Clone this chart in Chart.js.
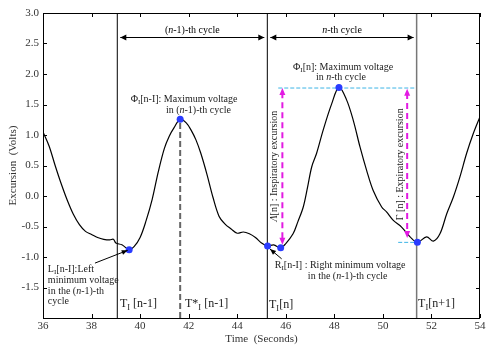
<!DOCTYPE html>
<html>
<head>
<meta charset="utf-8">
<script src="https://cdn.jsdelivr.net/npm/chart.js@4.4.1/dist/chart.umd.min.js"></script>
<style>
  html, body { margin: 0; padding: 0; background: #fff; }
  #wrap { width: 500px; height: 348px; }
</style>
</head>
<body>
<div id="wrap"><canvas id="chart" width="500" height="348"></canvas></div>
<script>
/* ================================
   Data
================================ */
const timeSec = [
  36.0, 36.25, 36.5, 36.75, 37.0, 37.25, 37.5, 37.75, 38.0, 38.25, 38.5, 38.75, 38.9,
  39.0, 39.25, 39.55, 39.75, 40.0, 40.25, 40.5, 40.75, 41.0, 41.2, 41.4, 41.65, 41.9,
  42.1, 42.3, 42.5, 42.75, 43.0, 43.25, 43.5, 43.75, 44.0, 44.25, 44.5, 44.75, 45.0,
  45.25, 45.5, 45.79, 46.0, 46.3, 46.5, 46.72, 46.9, 47.07, 47.27, 47.54, 47.89, 48.19,
  48.5, 48.78, 49.06, 49.33, 49.6, 49.95, 50.15, 50.43, 50.77, 51.12, 51.42, 51.8,
  52.08, 52.35, 52.63, 52.9, 53.17, 53.45, 53.72, 54.0
];
const voltage = [
  1.05, 0.82, 0.50, 0.20, -0.07, -0.30, -0.47, -0.58, -0.63, -0.68, -0.71, -0.72, -0.71,
  -0.77, -0.80, -0.88, -0.83, -0.68, -0.40, -0.05, 0.40, 0.78, 0.98, 1.12, 1.26, 1.20,
  1.08, 0.92, 0.70, 0.36, -0.02, -0.33, -0.46, -0.54, -0.61, -0.59, -0.62, -0.68, -0.77,
  -0.82, -0.80, -0.85, -0.78, -0.62, -0.42, -0.18, 0.15, 0.48, 0.70, 1.08, 1.51, 1.78,
  1.58, 1.24, 0.80, 0.42, 0.09, -0.18, -0.26, -0.40, -0.51, -0.67, -0.76, -0.67,
  -0.74, -0.62, -0.29, -0.02, 0.31, 0.70, 1.02, 1.30
];

// marked extrema (blue dots)
const markTime = [39.55, 41.65, 45.25, 45.79, 48.19, 51.42];
const markVolt = [-0.88, 1.26, -0.82, -0.85, 1.78, -0.76];

// cycle boundaries T_I[n-1], T_I[n], T_I[n+1] and peak time T*_I[n-1]
const boundaryTime = [39.06, 45.24, 51.39];
const peakTime = 41.65;

const xTicks = [36, 38, 40, 42, 44, 46, 48, 50, 52, 54];
const yTicks = [-2.0, -1.5, -1.0, -0.5, 0.0, 0.5, 1.0, 1.5, 2.0, 2.5, 3.0];

const SERIF = '"Liberation Serif", "DejaVu Serif", serif';

/* ================================
   Helpers
================================ */
function pts(xs, ys) {
  return xs.map((x, i) => ({ x, y: ys[i] }));
}

function vline(x, color, width, dash, y0 = -2, y1 = 3) {
  return {
    data: [{ x, y: y0 }, { x, y: y1 }],
    showLine: true, borderColor: color, borderWidth: width,
    borderDash: dash, pointRadius: 0, order: 5
  };
}

function hline(y, x0, x1, color, width, dash) {
  return {
    data: [{ x: x0, y }, { x: x1, y }],
    showLine: true, borderColor: color, borderWidth: width,
    borderDash: dash, pointRadius: 0, order: 5
  };
}

// draws text made of segments {t, sub, it}
function drawRich(ctx, segs, x, y, size, align) {
  const parts = segs.map(s => {
    const fs = s.sub ? size * 0.7 : size;
    const font = (s.it ? 'italic ' : '') + fs + 'px ' + SERIF;
    ctx.font = font;
    return { s, font, w: ctx.measureText(s.t).width };
  });
  const total = parts.reduce((a, p) => a + p.w, 0);
  let cx = align === 'center' ? x - total / 2 : align === 'right' ? x - total : x;
  ctx.textAlign = 'left';
  ctx.textBaseline = 'middle';
  parts.forEach(p => {
    ctx.font = p.font;
    ctx.fillText(p.s.t, cx, p.s.sub ? y + size * 0.3 : y);
    cx += p.w;
  });
}

function arrowHead(ctx, x, y, ang, len, half) {
  ctx.beginPath();
  ctx.moveTo(x, y);
  ctx.lineTo(x - len * Math.cos(ang) + half * Math.sin(ang), y - len * Math.sin(ang) - half * Math.cos(ang));
  ctx.lineTo(x - len * Math.cos(ang) - half * Math.sin(ang), y - len * Math.sin(ang) + half * Math.cos(ang));
  ctx.closePath();
  ctx.fill();
}

/* ================================
   Annotation plugin
================================ */
const annotations = {
  id: 'annotations',
  afterDraw(chart) {
    const { ctx, chartArea: a, scales: { x, y } } = chart;
    const X = v => x.getPixelForValue(v);
    const Y = v => y.getPixelForValue(v);
    ctx.save();

    // frame + inward ticks on all sides
    ctx.strokeStyle = '#000';
    ctx.lineWidth = 1;
    ctx.strokeRect(a.left + 0.5, a.top + 0.5, a.right - a.left - 1, a.bottom - a.top);
    ctx.beginPath();
    xTicks.forEach(t => {
      const px = Math.round(X(t)) + 0.5;
      ctx.moveTo(px, a.bottom); ctx.lineTo(px, a.bottom - 4);
      ctx.moveTo(px, a.top); ctx.lineTo(px, a.top + 4);
    });
    yTicks.forEach(t => {
      const py = Math.round(Y(t)) + 0.5;
      ctx.moveTo(a.left, py); ctx.lineTo(a.left + 4, py);
      ctx.moveTo(a.right, py); ctx.lineTo(a.right - 4, py);
    });
    ctx.stroke();

    // cycle double arrows
    ctx.fillStyle = '#000';
    const ay = Math.round(Y(2.6)) + 0.5;
    [[boundaryTime[0], boundaryTime[1]], [boundaryTime[1], boundaryTime[2]]].forEach(([t0, t1]) => {
      const x0 = X(t0) + 3, x1 = X(t1) - 3;
      ctx.beginPath(); ctx.moveTo(x0, ay); ctx.lineTo(x1, ay); ctx.stroke();
      arrowHead(ctx, x0, ay, Math.PI, 6, 3);
      arrowHead(ctx, x1, ay, 0, 6, 3);
    });
    drawRich(ctx, [{ t: '(' }, { t: 'n', it: true }, { t: '-1)-th cycle' }],
      X((boundaryTime[0] + boundaryTime[1]) / 2), Y(2.72), 10, 'center');
    drawRich(ctx, [{ t: 'n', it: true }, { t: '-th cycle' }],
      X((boundaryTime[1] + boundaryTime[2]) / 2), Y(2.72), 10, 'center');

    // magenta excursion arrows
    ctx.fillStyle = '#e21be2';
    [[45.86, 1.77, -0.80], [51.0, 1.76, -0.69]].forEach(([t, top, bot]) => {
      const px = X(t);
      arrowHead(ctx, px, Y(top), -Math.PI / 2, 7, 3);
      arrowHead(ctx, px, Y(bot), Math.PI / 2, 7, 3);
    });

    // black pointer arrows
    ctx.fillStyle = '#000';
    [[38.14, -1.10, 39.49, -0.89], [45.83, -1.03, 45.35, -0.87]].forEach(([t0, v0, t1, v1]) => {
      const x0 = X(t0), y0 = Y(v0), x1 = X(t1), y1 = Y(v1);
      ctx.beginPath(); ctx.moveTo(x0, y0); ctx.lineTo(x1, y1); ctx.stroke();
      arrowHead(ctx, x1, y1, Math.atan2(y1 - y0, x1 - x0), 6, 2.5);
    });

    // text labels
    ctx.fillStyle = '#222';
    drawRich(ctx, [{ t: 'Φ' }, { t: 'I', sub: true }, { t: '[n-I]: Maximum voltage' }], X(41.81), Y(1.58), 10, 'center');
    drawRich(ctx, [{ t: 'in (' }, { t: 'n', it: true }, { t: '-1)-th cycle' }], X(42.4), Y(1.40), 10, 'center');
    drawRich(ctx, [{ t: 'Φ' }, { t: 'I', sub: true }, { t: '[n]: Maximum voltage' }], X(48.36), Y(2.11), 10, 'center');
    drawRich(ctx, [{ t: 'in ' }, { t: 'n', it: true }, { t: '-th cycle' }], X(48.27), Y(1.95), 10, 'center');

    drawRich(ctx, [{ t: 'L' }, { t: 'I', sub: true }, { t: '[n-I]:Left' }], X(36.2), Y(-1.20), 10, 'left');
    drawRich(ctx, [{ t: 'minimum voltage' }], X(36.2), Y(-1.38), 10, 'left');
    drawRich(ctx, [{ t: 'in the (' }, { t: 'n', it: true }, { t: '-1)-th' }], X(36.2), Y(-1.56), 10, 'left');
    drawRich(ctx, [{ t: 'cycle' }], X(36.2), Y(-1.73), 10, 'left');

    drawRich(ctx, [{ t: 'R' }, { t: 'I', sub: true }, { t: '[n-I] : Right minimum voltage' }], X(45.55), Y(-1.14), 10, 'left');
    drawRich(ctx, [{ t: 'in the (' }, { t: 'n', it: true }, { t: '-1)-th cycle' }], X(46.91), Y(-1.31), 10, 'left');

    drawRich(ctx, [{ t: 'T' }, { t: 'I', sub: true }, { t: ' [n-1]' }], X(39.17), Y(-1.77), 12, 'left');
    drawRich(ctx, [{ t: 'T*' }, { t: 'I', sub: true }, { t: ' [n-1]' }], X(41.85), Y(-1.77), 12, 'left');
    drawRich(ctx, [{ t: 'T' }, { t: 'I', sub: true }, { t: '[n]' }], X(45.31), Y(-1.79), 12, 'left');
    drawRich(ctx, [{ t: 'T' }, { t: 'I', sub: true }, { t: '[n+1]' }], X(51.45), Y(-1.77), 12, 'left');

    // rotated excursion labels
    [[45.51, 0.49, [{ t: 'Λ', it: true }, { t: '[n] : Inspiratory excursion' }]],
     [50.73, 0.52, [{ t: 'Γ [n] : Expiratory excursion' }]]].forEach(([t, v, segs]) => {
      ctx.save();
      ctx.translate(X(t), Y(v));
      ctx.rotate(-Math.PI / 2);
      drawRich(ctx, segs, 0, 0, 10, 'center');
      ctx.restore();
    });

    ctx.restore();
  }
};

/* ================================
   Chart
================================ */
new Chart(document.getElementById('chart'), {
  type: 'scatter',
  data: {
    datasets: [
      {
        data: pts(timeSec, voltage), showLine: true, borderColor: '#000',
        borderWidth: 1.2, pointRadius: 0, tension: 0.35, order: 2
      },
      vline(boundaryTime[0], '#000', 1, []),
      vline(boundaryTime[1], '#000', 1, []),
      vline(boundaryTime[2], '#777', 1.5, []),
      vline(peakTime, '#666', 2, [6, 3], -2, markVolt[1]),
      hline(1.77, 45.69, 51.35, '#3cb4e6', 1, [4, 2]),
      hline(-0.76, 50.63, 51.42, '#3cb4e6', 1, [4, 2]),
      {
        data: [{ x: 45.86, y: 1.70 }, { x: 45.86, y: -0.72 }], showLine: true,
        borderColor: '#e21be2', borderWidth: 2, borderDash: [6, 4], pointRadius: 0, order: 4
      },
      {
        data: [{ x: 51.0, y: 1.69 }, { x: 51.0, y: -0.62 }], showLine: true,
        borderColor: '#e21be2', borderWidth: 2, borderDash: [6, 4], pointRadius: 0, order: 4
      },
      {
        data: pts(markTime, markVolt), pointRadius: 3.5, pointBackgroundColor: '#2a3cff',
        pointBorderColor: '#2a3cff', pointBorderWidth: 0, order: 0
      }
    ]
  },
  options: {
    responsive: false,
    animation: false,
    devicePixelRatio: 1,
    layout: { padding: { top: 13, right: 20, left: 0, bottom: 0 } },
    plugins: { legend: { display: false }, tooltip: { enabled: false } },
    scales: {
      x: {
        type: 'linear', min: 36, max: 54,
        afterFit: s => { s.height = 30; },
        afterBuildTicks: s => { s.ticks = xTicks.map(v => ({ value: v })); },
        ticks: { font: { family: SERIF, size: 11 }, color: '#333', padding: 2, maxRotation: 0 },
        grid: { display: false, drawTicks: false },
        border: { display: false },
        title: { display: true, text: 'Time  (Seconds)', font: { family: SERIF, size: 11 }, color: '#333', padding: { top: 0, bottom: 2 } }
      },
      y: {
        min: -2, max: 3,
        afterFit: s => { s.width = 43; },
        afterBuildTicks: s => { s.ticks = yTicks.map(v => ({ value: v })); },
        ticks: {
          font: { family: SERIF, size: 11 }, color: '#333', padding: 4,
          callback: v => (v === -2 ? '' : v.toFixed(1))
        },
        grid: { display: false, drawTicks: false },
        border: { display: false },
        title: { display: true, text: 'Excursion  (Volts)', font: { family: SERIF, size: 11 }, color: '#333', padding: { top: 7, bottom: 0 } }
      }
    }
  },
  plugins: [annotations]
});
</script>
</body>
</html>
